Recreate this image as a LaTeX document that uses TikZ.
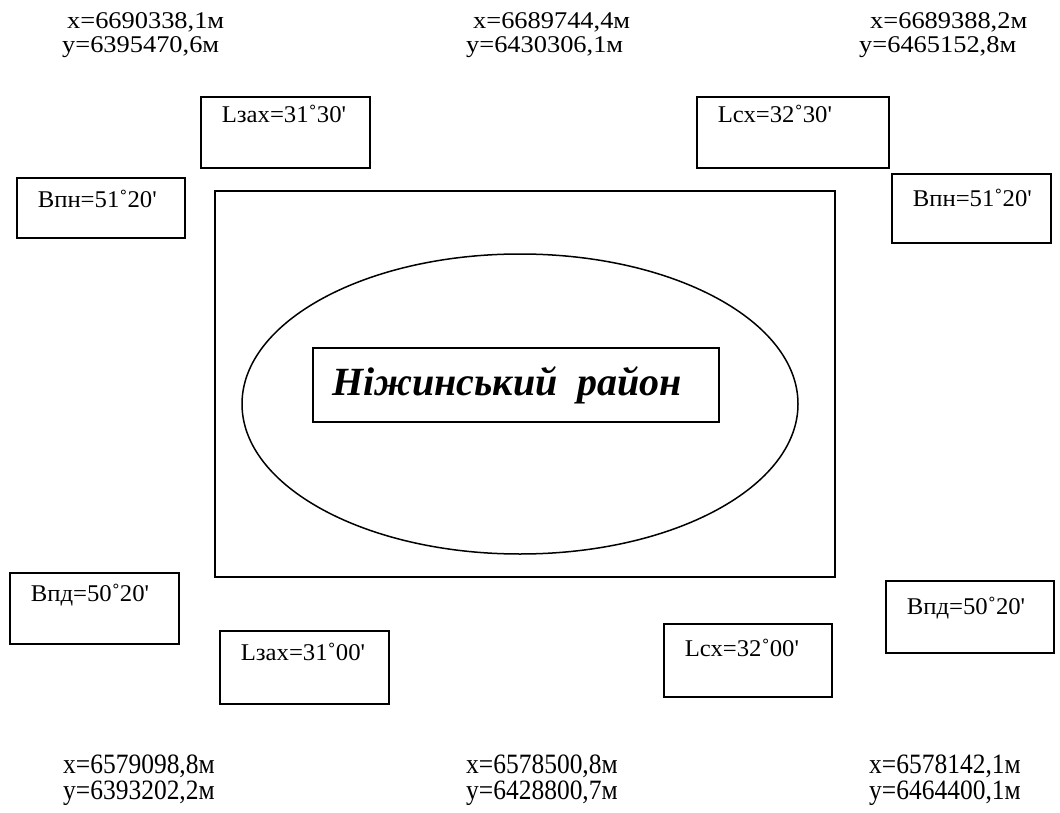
\documentclass[tikz,border=0pt]{standalone}
\usepackage{fontspec}
\setmainfont{Liberation Serif}
\newfontfamily\widefont[FakeStretch=1.1]{Liberation Serif}
\newfontfamily\narrowfont[FakeStretch=0.91]{Liberation Serif}
\newfontfamily\boxfont[FakeStretch=1.03]{Liberation Serif}
\usetikzlibrary{shapes.geometric, positioning}

\begin{document}
\begin{tikzpicture}[
  x=1pt, y=-1pt,
  every node/.style={inner sep=0pt},
  coord top/.style={anchor=north west, align=left, font=\fontsize{24}{24}\widefont},
  coord bottom/.style={anchor=north west, align=left, font=\fontsize{28}{26}\narrowfont},
  deg box/.style={
    draw=black, line width=1.6pt,
    anchor=north west,
    inner xsep=21pt, inner ysep=0pt,
    align=left,
    font=\fontsize{24}{24}\boxfont
  },
  frame/.style={draw=black, line width=1.8pt},
  ]
\useasboundingbox (0,0) rectangle (1060,813);

% corner coordinates, top
\node[coord top] (ctl) at (62,12) {\hspace{5pt}x=6690338,1м\\y=6395470,6м};
\node[coord top] (ctm) at (466,12) {\hspace{7pt}x=6689744,4м\\y=6430306,1м};
\node[coord top] (ctr) at (859,12) {\hspace{11pt}x=6689388,2м\\y=6465152,8м};

% degree boxes
\node[deg box, text width=127, text height=26, text depth=45] (zaxn) at (200,96) {Lзах=31˚30\textquotesingle};
\node[deg box, text width=150, text height=26, text depth=45] (cxn) at (696,96) {Lсх=32˚30\textquotesingle};
\node[deg box, text width=126, text height=30, text depth=30] (pnw) at (16,177) {Bпн=51˚20\textquotesingle};
\node[deg box, text width=117, text height=33, text depth=36] (pne) at (891,173) {Bпн=51˚20\textquotesingle};
\node[deg box, text width=127, text height=29, text depth=42] (pdw) at (9,572) {Bпд=50˚20\textquotesingle};
\node[deg box, text width=127, text height=30, text depth=43] (zaxs) at (219,630) {Lзах=31˚00\textquotesingle};
\node[deg box, text width=126, text height=33, text depth=40] (cxs) at (663,623) {Lсх=32˚00\textquotesingle};
\node[deg box, text width=126, text height=34, text depth=38] (pde) at (885,580) {Bпд=50˚20\textquotesingle};

% district
\node[frame, minimum width=620, minimum height=386] (map) at (525,384) {};
\node[draw=black, line width=1.5pt, ellipse, minimum width=556, minimum height=300] (region) at (520,404) {};
\node[frame, text width=368, inner xsep=19pt, minimum height=74, align=left,
      font=\fontsize{40}{44}\selectfont\bfseries\itshape] (name) at (516,385) {Ніжинський\hspace{20pt}район};

% corner coordinates, bottom
\node[coord bottom] (cbl) at (63,755) {x=6579098,8м\\y=6393202,2м};
\node[coord bottom] (cbm) at (466,755) {x=6578500,8м\\y=6428800,7м};
\node[coord bottom] (cbr) at (869,755) {x=6578142,1м\\y=6464400,1м};
\end{tikzpicture}
\end{document}
